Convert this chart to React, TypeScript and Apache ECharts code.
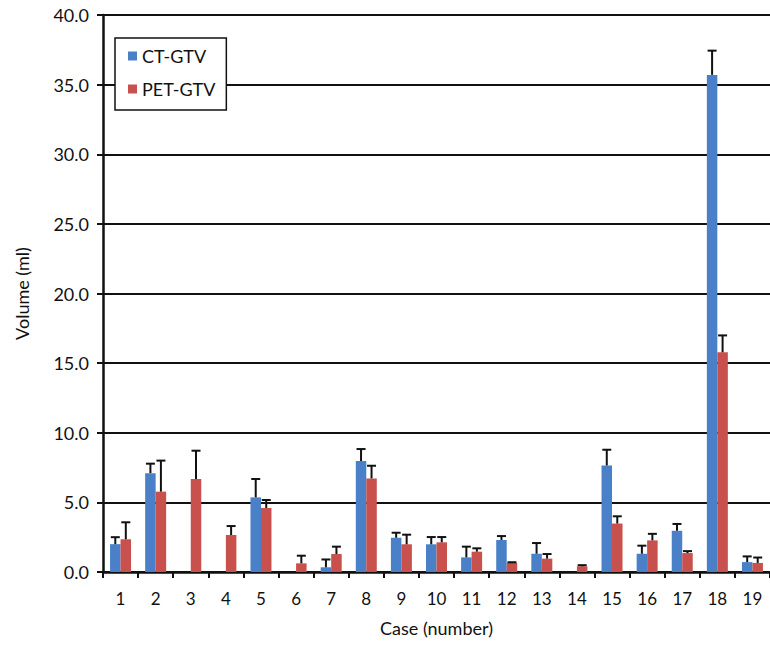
import React, { useEffect, useRef } from "react";
import * as echarts from "echarts";

const cases = ["1","2","3","4","5","6","7","8","9","10","11","12","13","14","15","16","17","18","19"];
const ctGtv = [2.0, 7.1, 0, 0, 5.36, 0, 0.34, 7.97, 2.46, 1.99, 1.05, 2.3, 1.31, 0, 7.65, 1.31, 2.96, 35.7, 0.71];
const ctErr = [0.5, 0.68, 0, 0, 1.32, 0, 0.56, 0.86, 0.36, 0.52, 0.77, 0.28, 0.77, 0, 1.13, 0.58, 0.49, 1.74, 0.41];
const petGtv = [2.35, 5.77, 6.68, 2.66, 4.6, 0.62, 1.29, 6.72, 1.99, 2.13, 1.46, 0.65, 0.96, 0.41, 3.48, 2.27, 1.36, 15.78, 0.65];
const petErr = [1.22, 2.23, 2.03, 0.64, 0.57, 0.55, 0.53, 0.91, 0.69, 0.38, 0.24, 0.05, 0.33, 0.08, 0.52, 0.47, 0.14, 1.21, 0.39];

const BLUE = "#4A80C8";
const RED = "#C8504D";
const INK = "#111111";
const FONT = "Lato";
const BAR_W = 10.5;

function errorSeries(name: string, vals: number[], errs: number[], offset: number) {
  return {
    type: "custom",
    name: name + " err",
    z: 5,
    silent: true,
    coordinateSystem: "cartesian2d",
    encode: { x: 0, y: 1 },
    data: vals.map((v, i) => [i, v, errs[i]]),
    renderItem: (params: any, api: any) => {
      const v = api.value(1);
      const e = api.value(2);
      if (!v) return null;
      const base = api.coord([api.value(0), v]);
      const top = api.coord([api.value(0), v + e]);
      const x = base[0] + offset;
      const style = { stroke: INK, lineWidth: 2 };
      return {
        type: "group",
        children: [
          { type: "line", shape: { x1: x, y1: base[1], x2: x, y2: top[1] }, style },
          { type: "line", shape: { x1: x - 4.5, y1: top[1], x2: x + 4.5, y2: top[1] }, style },
        ],
      };
    },
  };
}

export default function App() {
  const ref = useRef<HTMLDivElement>(null);
  useEffect(() => {
    if (!ref.current) return;
    const chart = echarts.init(ref.current, null, { renderer: "svg" });
    chart.setOption({
      animation: false,
      backgroundColor: "#ffffff",
      textStyle: { fontFamily: FONT, color: INK },
      grid: { left: 103, top: 15, right: -4, bottom: 74, containLabel: false },
      legend: {
        data: ["CT-GTV", "PET-GTV"],
        orient: "vertical",
        left: 115,
        top: 38,
        padding: [8, 11, 11, 13],
        itemWidth: 9,
        itemHeight: 9,
        itemGap: 13,
        icon: "rect",
        borderColor: INK,
        borderWidth: 1.5,
        backgroundColor: "#ffffff",
        textStyle: { fontFamily: FONT, fontSize: 18, color: INK, lineHeight: 20 },
      },
      xAxis: {
        type: "category",
        data: cases,
        name: "Case (number)",
        nameLocation: "middle",
        nameGap: 47,
        nameTextStyle: { fontFamily: FONT, fontSize: 18, color: INK },
        axisLine: { show: true, lineStyle: { color: INK, width: 2.5 } },
        axisTick: { show: true, interval: 0, length: 6, lineStyle: { color: INK, width: 2 } },
        axisLabel: { interval: 0, margin: 18, fontFamily: FONT, fontSize: 17, color: INK },
        splitLine: { show: false },
      },
      yAxis: {
        type: "value",
        min: 0,
        max: 40,
        interval: 5,
        name: "Volume (ml)",
        nameLocation: "middle",
        nameGap: 72,
        nameTextStyle: { fontFamily: FONT, fontSize: 18, color: INK },
        axisLine: { show: true, lineStyle: { color: INK, width: 2.5 } },
        axisTick: { show: true, length: 6, lineStyle: { color: INK, width: 2 } },
        axisLabel: { margin: 14, fontFamily: FONT, fontSize: 18, color: INK, formatter: (v: number) => v.toFixed(1) },
        splitLine: { show: true, lineStyle: { color: INK, width: 2 } },
      },
      series: [
        { name: "CT-GTV", type: "bar", data: ctGtv, barWidth: BAR_W, barGap: "0%", itemStyle: { color: BLUE }, z: 3 },
        { name: "PET-GTV", type: "bar", data: petGtv, barWidth: BAR_W, barGap: "0%", itemStyle: { color: RED }, z: 3 },
        errorSeries("CT-GTV", ctGtv, ctErr, -BAR_W / 2),
        errorSeries("PET-GTV", petGtv, petErr, BAR_W / 2),
      ],
    });
    return () => chart.dispose();
  }, []);
  return <div ref={ref} style={{ position: "fixed", left: 0, top: 0, width: 770, height: 646 }} />;
}
